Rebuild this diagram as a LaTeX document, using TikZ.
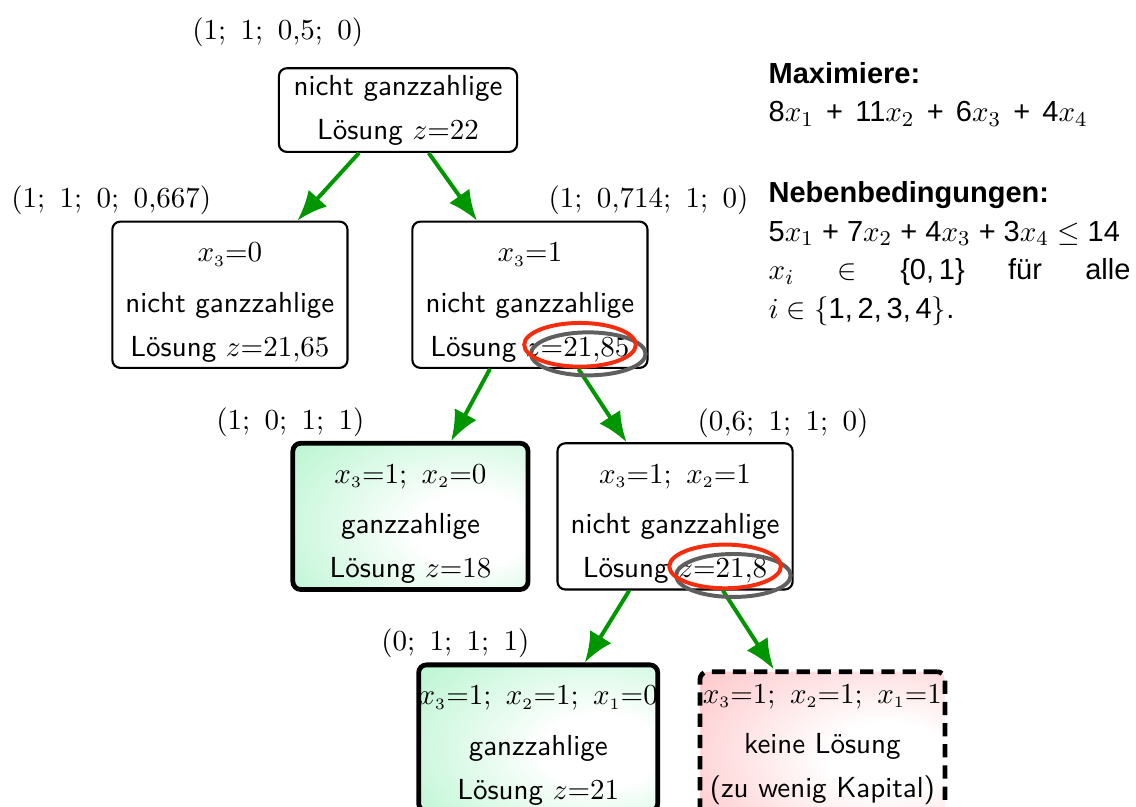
\documentclass[tikz,border=0pt,11pt]{standalone}
\usepackage{fontspec}
\newfontfamily\helv{Liberation Sans}
\usetikzlibrary{arrows.meta,positioning,shapes.geometric}

\definecolor{edgegreen}{RGB}{0,150,0}
\definecolor{okgreen}{RGB}{150,240,185}
\definecolor{nored}{RGB}{255,170,175}
\definecolor{markred}{RGB}{245,45,15}
\definecolor{markgrey}{RGB}{95,95,95}

% soft glow, lighter towards the lower right
\pgfdeclareradialshading{okglow}{\pgfpoint{15bp}{-5bp}}{color(0bp)=(white); color(12bp)=(white); color(60bp)=(okgreen); color(100bp)=(okgreen)}
\pgfdeclareradialshading{noglow}{\pgfpoint{15bp}{-5bp}}{color(0bp)=(white); color(12bp)=(white); color(60bp)=(nored); color(100bp)=(nored)}

\newcommand{\xs}[1]{x_{\scriptscriptstyle #1}}
\newcommand{\wplus}{\hspace{4.6pt}+\hspace{4.6pt}}
\newcommand{\topgap}{\rule{0pt}{13pt}}

\tikzset{
  lpbox/.style={draw=black, thick, rounded corners=3pt, align=center, font=\sffamily,
    minimum width=3.16cm, minimum height=1.11cm, inner sep=2pt},
  branchbox/.style={lpbox, minimum width=3.12cm, minimum height=1.94cm, inner sep=0pt},
  intbox/.style={branchbox, line width=1.8pt, shading=okglow},
  nobox/.style={branchbox, line width=1.8pt, dash pattern=on 5pt off 3pt, shading=noglow,
    minimum width=3.25cm},
  tuple/.style={inner sep=0pt},
  markring/.style={line width=1.5pt}
}

\begin{document}
\begin{tikzpicture}[->, >={Latex[length=4mm,width=3.3mm]},
    level 1/.style={level distance=2.45cm, sibling distance=3.98cm},
    level 2/.style={level distance=2.94cm, sibling distance=3.51cm},
    level 3/.style={level distance=2.94cm, sibling distance=3.77cm},
    edge from parent/.style={draw, edgegreen, line width=1.5pt}]
  \clip (-5.28,1.46) rectangle (9.79,-9.24);

  \node (root) [lpbox] {nicht ganzzahlige\\[3pt] Lösung $z{=}22$}
    child {node (left1) [branchbox, xshift=-0.24cm] {\topgap$\xs3{=}0$\\[5.5pt] nicht ganzzahlige\\[3pt] Lösung $z{=}21{,}65$}}
    child {node (right1) [branchbox, xshift=-0.24cm] {\topgap$\xs3{=}1$\\[5.5pt] nicht ganzzahlige\\[3pt] Lösung $z{=}21{,}85$}
      child {node (int18) [intbox, xshift=0.17cm] {\topgap$\xs3{=}1;\ \xs2{=}0$\\[5.5pt] ganzzahlige\\[3pt] Lösung $z{=}18$}}
      child {node (right2) [branchbox, xshift=0.17cm] {\topgap$\xs3{=}1;\ \xs2{=}1$\\[5.5pt] nicht ganzzahlige\\[3pt] Lösung $z{=}21{,}8$}
        child {node (int21) [intbox, xshift=0.07cm] {\topgap$\xs3{=}1;\ \xs2{=}1;\ \xs1{=}0$\\[5.5pt] ganzzahlige\\[3pt] Lösung $z{=}21$}}
        child {node (nosol) [nobox, xshift=0.07cm, yshift=-0.09cm] {$\xs3{=}1;\ \xs2{=}1;\ \xs1{=}1$\\[5.5pt] keine Lösung\\[3pt] (zu wenig Kapital)}}
      }
    };

  % relaxed solutions above the boxes
  \node[tuple, above=0.26cm of root.north west] (troot) {$(1;\ 1;\ 0{,}5;\ 0)$};
  \node[tuple, above=0.07cm of left1.north west] (tleft1) {$(1;\ 1;\ 0;\ 0{,}667)$};
  \node[tuple, above=0.07cm of right1.north east] (tright1) {$(1;\ 0{,}714;\ 1;\ 0)$};
  \node[tuple, above=0.05cm of int18.north west] (tint18) {$(1;\ 0;\ 1;\ 1)$};
  \node[tuple, above=0.05cm of right2.north east, xshift=-0.14cm] (tright2) {$(0{,}6;\ 1;\ 1;\ 0)$};
  \node[tuple, above=0.05cm of int21.north west, xshift=0.52cm] (tint21) {$(0;\ 1;\ 1;\ 1)$};

  % bounds that get branched on
  \draw[markring, markgrey] ([xshift=-0.80cm, yshift=0.20cm]right1.south east) ellipse (0.76cm and 0.285cm);
  \draw[markring, markred] ([xshift=-0.91cm, yshift=0.32cm]right1.south east) ellipse (0.74cm and 0.29cm);
  \draw[markring, markgrey] ([xshift=-0.80cm, yshift=0.20cm]right2.south east) ellipse (0.76cm and 0.285cm);
  \draw[markring, markred] ([xshift=-0.91cm, yshift=0.32cm]right2.south east) ellipse (0.74cm and 0.29cm);

  % problem statement
  \node[anchor=north west, text width=4.8cm, inner sep=0pt, align=justify,
        font=\helv\linespread{1.07}\selectfont] (task) at (4.91,0.64) {%
    \textbf{Maximiere:}\\
    8$x_1$\wplus 11$x_2$\wplus 6$x_3$\wplus 4$x_4$\\[16pt]
    \textbf{Nebenbedingungen:}\\
    5$x_1$ + 7$x_2$ + 4$x_3$ + 3$x_4$ $\leq$ 14\\
    $x_i$ \hfill $\in$ \hfill \{0,\,1\} \hfill für \hfill alle\\
    $i\in\{$1,\,2,\,3,\,4$\}$.};
\end{tikzpicture}
\end{document}
